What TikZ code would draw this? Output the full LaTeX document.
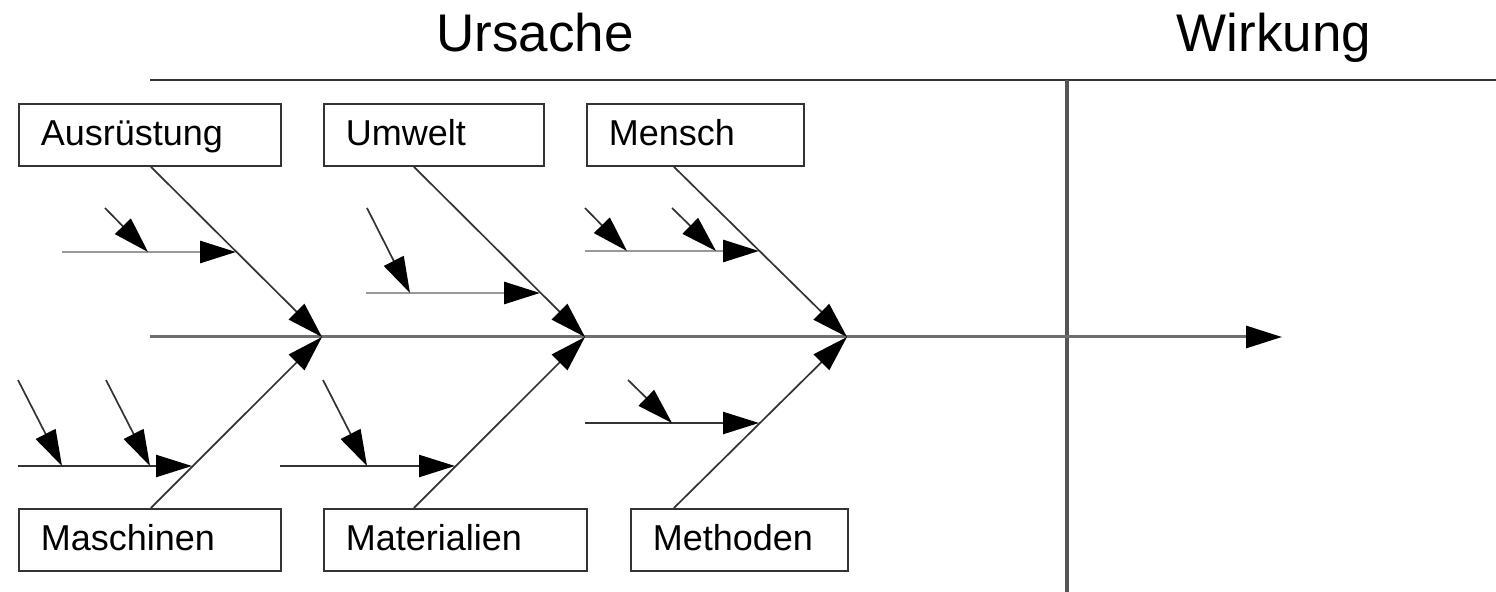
\documentclass[tikz,border=0pt]{standalone}
\usepackage{fontspec}
\setmainfont{Liberation Sans}
\usetikzlibrary{arrows.meta,calc}
\definecolor{darkline}{HTML}{333333}
\definecolor{spinegray}{HTML}{6E6E6E}
\definecolor{lightbone}{HTML}{999999}
\definecolor{vline}{HTML}{555555}
\tikzset{
  causebox/.style={draw=darkline, line width=0.9pt, rectangle, anchor=north west,
    minimum height=31pt, inner xsep=11pt, inner ysep=0pt,
    text height=12.5pt, text depth=2pt, align=left,
    font=\fontsize{18pt}{20pt}\selectfont},
  title/.style={anchor=base, font=\fontsize{26.5pt}{30pt}\selectfont},
  head/.style={-{Triangle[length=18pt,width=11pt,color=black]}},
  bone/.style={head, draw=darkline, line width=0.85pt},
  spine/.style={head, draw=spinegray, line width=1.5pt},
  subup/.style={head, draw=lightbone, line width=1.4pt},
  sublow/.style={head, draw=darkline, line width=1.2pt},
  twig/.style={head, draw=darkline, line width=0.85pt},
}
\begin{document}
\begin{tikzpicture}[x=0.5pt,y=-0.5pt]
\useasboundingbox (0,0) rectangle (1496,592);
% titles and frame
\node[title] (ursache) at (535,52) {Ursache};
\node[title] (wirkung) at (1274,52) {Wirkung};
\coordinate (tl) at (150,80);
\coordinate (tr) at (1496,80);
\coordinate (vt) at (1067,80);
\coordinate (vb) at (1067,592);
\draw[darkline, line width=1.1pt] (tl) -- (tr);
\draw[vline, line width=1.6pt] (vt) -- (vb);
% boxes
\node[causebox, text width=109pt] (A) at (18,103) {Ausrüstung};
\node[causebox, text width=88pt] (U) at (323,103) {Umwelt};
\node[causebox, text width=86.5pt] (Me) at (586,103) {Mensch};
\node[causebox, text width=109pt] (Ma) at (18,508) {Maschinen};
\node[causebox, text width=109.5pt] (Mt) at (323,508) {Materialien};
\node[causebox, text width=86.5pt] (Mo) at (630,508) {Methoden};
% spine
\coordinate (s0) at (150,337);
\coordinate (J1) at (322,337);
\coordinate (J2) at (585,337);
\coordinate (J3) at (847,337);
\coordinate (stip) at (1282,337);
\draw[spine] (s0) -- (stip);
% main bones
\draw[bone] ([xshift=0.5pt]A.south) -- (J1);
\draw[bone] ([xshift=0.5pt]Ma.north) -- (J1);
\draw[bone] ([xshift=-10pt]U.south) -- (J2);
\draw[bone] ([xshift=-20.75pt]Mt.north) -- (J2);
\draw[bone] ([xshift=-10.75pt]Me.south) -- (J3);
\draw[bone] ([xshift=-32.75pt]Mo.north) -- (J3);
% sub-bones
\coordinate (a1s) at (62,252);  \coordinate (a1t) at (236,252);
\coordinate (u1s) at (366,293); \coordinate (u1t) at (540,293);
\coordinate (m1s) at (585,251); \coordinate (m1t) at (759,251);
\coordinate (c1s) at (18,466);  \coordinate (c1t) at (192,466);
\coordinate (t1s) at (280,466); \coordinate (t1t) at (455,466);
\coordinate (o1s) at (585,423); \coordinate (o1t) at (759,423);
\draw[subup] (a1s) -- (a1t);
\draw[subup] (u1s) -- (u1t);
\draw[subup] (m1s) -- (m1t);
\draw[sublow] (c1s) -- (c1t);
\draw[sublow] (t1s) -- (t1t);
\draw[sublow] (o1s) -- (o1t);
% twigs
\coordinate (w1s) at (105,208); \coordinate (w1t) at (148,252);
\coordinate (w2s) at (367,208); \coordinate (w2t) at (410,293);
\coordinate (w3s) at (585,208); \coordinate (w3t) at (627,251);
\coordinate (w4s) at (672,208); \coordinate (w4t) at (716,251);
\coordinate (w5s) at (18,380);  \coordinate (w5t) at (62,466);
\coordinate (w6s) at (106,380); \coordinate (w6t) at (150,466);
\coordinate (w7s) at (323,380); \coordinate (w7t) at (367,466);
\coordinate (w8s) at (628,380); \coordinate (w8t) at (672,423);
\foreach \i in {1,...,8} {\draw[twig] (w\i s) -- (w\i t);}
\end{tikzpicture}
\end{document}
